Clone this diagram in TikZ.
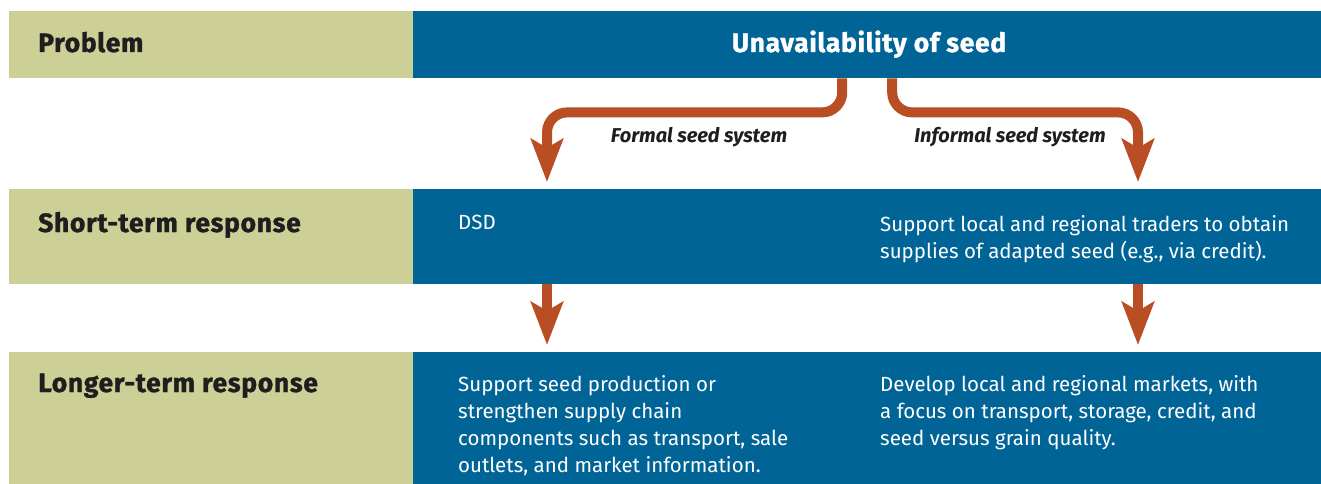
\documentclass[tikz,border=0pt]{standalone}
\usepackage{fontspec}
\setmainfont{Fira Sans}
\usetikzlibrary{arrows.meta}
\definecolor{sagegreen}{RGB}{204,207,150}
\definecolor{seablue}{RGB}{0,100,150}
\definecolor{rust}{RGB}{185,78,36}
\definecolor{inkgray}{RGB}{30,30,30}
\newcommand{\rowfont}{\bfseries\fontsize{26.5}{30}\selectfont\addfontfeatures{FakeBold=1.2,LetterSpace=2.5}}
\newcommand{\bodyfont}{\fontsize{20.5}{27}\selectfont}
\newcommand{\branchfont}{\bfseries\itshape\fontsize{20}{22}\selectfont}

\begin{document}
\begin{tikzpicture}[x=1pt, y=-1pt,
    labelbox/.style={fill=sagegreen, anchor=north west, inner sep=0pt, minimum width=404},
    bluebox/.style={fill=seablue, anchor=north west, inner sep=0pt, minimum width=908},
    rowlabel/.style={anchor=base west, inner sep=0pt, font=\rowfont, text=inkgray},
    bodytext/.style={anchor=north west, align=left, inner sep=0pt, text=white, font=\bodyfont},
    branch/.style={inner sep=0pt, font=\branchfont, text=inkgray},
    flow/.style={draw=rust, line width=10pt, rounded corners=20pt,
      -{Stealth[length=43pt, width=32pt, inset=9pt]}}]
    \useasboundingbox (0,0) rectangle (1321,484);
    % Bandes
    \node[labelbox, minimum height=67] (problem) at (9,11) {};
    \node[bluebox, minimum height=67] (unavail) at (413,11) {};
    \node[labelbox, minimum height=95] (short) at (9,189) {};
    \node[bluebox, minimum height=95] (shortbox) at (413,189) {};
    \node[labelbox, minimum height=132] (longer) at (9,352) {};
    \node[bluebox, minimum height=132] (longbox) at (413,352) {};
    % Textes
    \node[rowlabel] (problemtxt) at (38,52) {Problem};
    \node[rowlabel, anchor=base, text=white] (unavailtxt) at (869,52) {Unavailability of seed};
    \node[rowlabel] (shorttxt) at (38,232) {Short-term response};
    \node[rowlabel] (longertxt) at (38,392) {Longer-term response};
    \node[bodytext] (dsd) at (458,215) {DSD};
    \node[bodytext] (traders) at (880,215) {Support local and regional traders to obtain\\supplies of adapted seed (e.g., via credit).};
    \node[bodytext] (production) at (458,375) {Support seed production or\\strengthen supply chain\\components such as transport, sale\\outlets, and market information.};
    \node[bodytext] (markets) at (880,375) {Develop local and regional markets, with\\a focus on transport, storage, credit, and\\seed versus grain quality.};
    \node[branch] (formaltxt) at (699,137) {Formal seed system};
    \node[branch] (informaltxt) at (1010,137) {Informal seed system};
    % Flèches
    \coordinate (formal) at (547,0);
    \coordinate (informal) at (1138,0);
    \draw[flow, shorten >=7pt] ([xshift=-25pt]unavail.south) -- ++(0,34) -| (shortbox.north -| formal);
    \draw[flow, shorten >=7pt] ([xshift=25pt]unavail.south) -- ++(0,34) -| (shortbox.north -| informal);
    \draw[flow, shorten >=7pt] (shortbox.south -| formal) -- (longbox.north -| formal);
    \draw[flow, shorten >=7pt] (shortbox.south -| informal) -- (longbox.north -| informal);
  \end{tikzpicture}
\end{document}
